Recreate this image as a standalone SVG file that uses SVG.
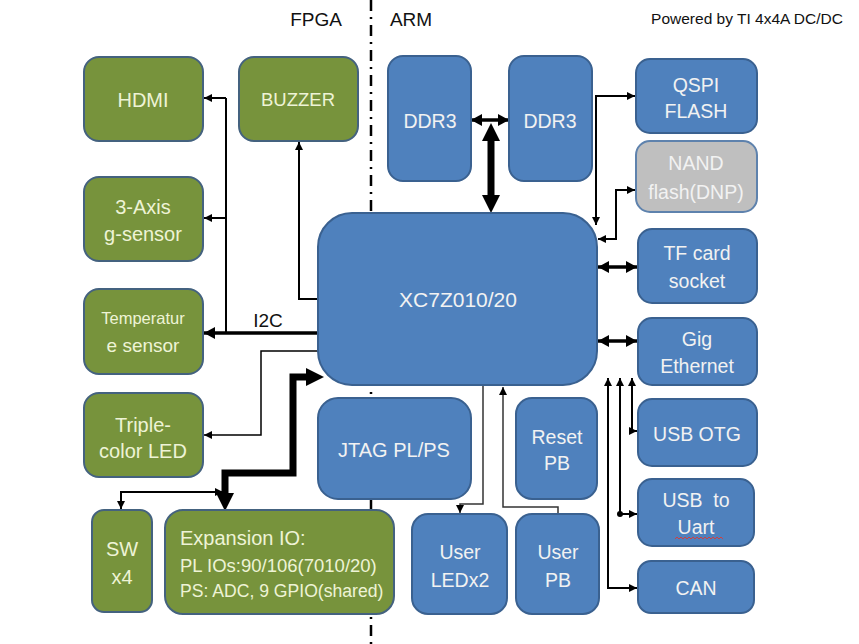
<svg xmlns="http://www.w3.org/2000/svg" width="859" height="644" viewBox="0 0 859 644">
<style>
text{font-family:"Liberation Sans",Arial,sans-serif;text-anchor:middle}
.g{fill:#77933C;stroke:#44627F;stroke-width:2}
.b{fill:#4F81BD;stroke:#3A6190;stroke-width:2}
.n{fill:#BFBFBF;stroke:#5E82AD;stroke-width:2}
.tg{fill:#EEF3D6;font-size:20px}
.tb{fill:#F2F2F2;font-size:19.5px}
.hd{fill:#111;font-size:19px}
.c{fill:none;stroke:#000;stroke-width:2}
.c3{fill:none;stroke:#000;stroke-width:3.5}
.ck{fill:none;stroke:#000;stroke-width:7;stroke-linejoin:miter}
.cf{fill:none;stroke:#333;stroke-width:1.5}
</style>
<defs>
<marker id="a" markerUnits="userSpaceOnUse" markerWidth="9" markerHeight="9" refX="8" refY="4" orient="auto-start-reverse"><path d="M0,0 L8,4 L0,8 z" fill="#000"/></marker>
<marker id="m" markerUnits="userSpaceOnUse" markerWidth="13" markerHeight="13" refX="11" refY="6" orient="auto-start-reverse"><path d="M0,0 L11,6 L0,12 z" fill="#000"/></marker>
<marker id="k" markerUnits="userSpaceOnUse" markerWidth="20" markerHeight="20" refX="0" refY="9" orient="auto-start-reverse"><path d="M0,0 L18,9 L0,18 z" fill="#000"/></marker>
</defs>
<rect width="859" height="644" fill="#fff"/>

<line x1="371" y1="0" x2="371" y2="644" stroke="#000" stroke-width="2.5" stroke-dasharray="11 6 2 6"/>
<text class="hd" x="316" y="26">FPGA</text>
<text class="hd" x="411" y="26">ARM</text>
<text x="747" y="24" style="font-size:15.5px;fill:#111">Powered by TI 4x4A DC/DC</text>

<g id="connectors">
<path class="c" d="M226,98 V333"/>
<path class="c" d="M226,98 H204" marker-end="url(#a)"/>
<path class="c" d="M226,218 H204" marker-end="url(#a)"/>
<path class="c3" d="M318,333 H204" marker-end="url(#m)"/>
<text class="hd" x="268" y="327">I2C</text>
<path class="c" d="M318,299 H299 V142" marker-end="url(#a)"/>
<path class="cf" style="stroke:#000" d="M318,351 H261 V435 H204" marker-end="url(#a)"/>
<path class="c" d="M223,492 H121 V509" marker-start="url(#a)" marker-end="url(#a)"/>
<path class="ck" d="M225,493 V473 H293 V377 H306" marker-start="url(#k)" marker-end="url(#k)"/>
<path class="c3" d="M471,120 H509" marker-start="url(#m)" marker-end="url(#m)"/>
<path class="ck" d="M491,141 V195" marker-start="url(#k)" marker-end="url(#k)"/>
<path class="c" d="M596,225 V96 H635" marker-start="url(#a)" marker-end="url(#a)"/>
<path class="c" d="M598,239 H616 V190 H635" marker-start="url(#a)" marker-end="url(#a)"/>
<path class="c3" d="M598,267 H637" marker-start="url(#m)" marker-end="url(#m)"/>
<path class="c3" d="M598,341 H637" marker-start="url(#m)" marker-end="url(#m)"/>
<path class="c" d="M637,431 H632 V378" marker-start="url(#a)" marker-end="url(#a)"/>
<path class="c" d="M620,378 V514 H637" marker-start="url(#a)" marker-end="url(#a)"/>
<circle cx="620" cy="514" r="3"/>
<path class="c" d="M608,378 V588 H637" marker-start="url(#a)" marker-end="url(#a)"/>
<path class="cf" d="M483,385 V504 H460 V513" marker-end="url(#a)"/>
<path class="cf" d="M558,514 V507 H503 V387" marker-end="url(#a)"/>
</g>

<g id="hdmi"><rect class="g" x="84" y="57" width="119" height="84" rx="15"/><text class="tg" x="143" y="107">HDMI</text></g>
<g id="buzzer"><rect class="g" x="239" y="57" width="119" height="84" rx="15"/><text class="tg" x="298" y="106" style="font-size:18.5px">BUZZER</text></g>
<g id="gsensor"><rect class="g" x="84" y="177" width="119" height="84" rx="15"/><text class="tg" x="143" y="214">3-Axis</text><text class="tg" x="143" y="241">g-sensor</text></g>
<g id="tempsensor"><rect class="g" x="84" y="289" width="119" height="85" rx="15"/><text class="tg" x="143" y="324" style="font-size:16.5px">Temperatur</text><text class="tg" x="143" y="352" style="font-size:19px">e sensor</text></g>
<g id="led"><rect class="g" x="84" y="393" width="119" height="84" rx="15"/><text class="tg" x="143" y="432">Triple-</text><text class="tg" x="143" y="458">color LED</text></g>
<g id="sw"><rect class="g" x="92" y="510" width="60" height="102" rx="12"/><text class="tg" x="122" y="556">SW</text><text class="tg" x="122" y="584">x4</text></g>
<g id="expansion"><rect class="g" x="165" y="510" width="229" height="104" rx="18"/>
<text class="tg" x="180" y="545" style="text-anchor:start">Expansion IO:</text>
<text class="tg" x="180" y="572" style="text-anchor:start;font-size:18.5px">PL IOs:90/106(7010/20)</text>
<text class="tg" x="180" y="597" style="text-anchor:start;font-size:17.6px">PS: ADC, 9 GPIO(shared)</text></g>

<g id="ddr3a"><rect class="b" x="388" y="56" width="83" height="125" rx="15"/><text class="tb" x="430" y="128">DDR3</text></g>
<g id="ddr3b"><rect class="b" x="509" y="56" width="83" height="125" rx="15"/><text class="tb" x="550" y="128">DDR3</text></g>
<g id="qspi"><rect class="b" x="636" y="59" width="121" height="74" rx="14"/><text class="tb" x="696" y="92">QSPI</text><text class="tb" x="696" y="118">FLASH</text></g>
<g id="nand"><rect class="n" x="636" y="141" width="121" height="71" rx="14"/><text class="tb" x="696" y="170">NAND</text><text class="tb" x="696" y="199">flash(DNP)</text></g>
<g id="soc"><rect class="b" x="318" y="213" width="279" height="172" rx="34"/><text class="tb" x="458" y="307" style="font-size:21px">XC7Z010/20</text></g>
<g id="tfcard"><rect class="b" x="638" y="229" width="119" height="74" rx="14"/><text class="tb" x="697" y="260">TF card</text><text class="tb" x="697" y="288">socket</text></g>
<g id="ethernet"><rect class="b" x="638" y="318" width="119" height="67" rx="14"/><text class="tb" x="697" y="346">Gig</text><text class="tb" x="697" y="373">Ethernet</text></g>
<g id="usbotg"><rect class="b" x="638" y="399" width="119" height="67" rx="14"/><text class="tb" x="697" y="441">USB OTG</text></g>
<g id="usbuart"><rect class="b" x="638" y="479" width="116" height="67" rx="14"/><text class="tb" x="696" y="507" xml:space="preserve">USB  to</text><text class="tb" x="696" y="534">Uart</text>
<path d="M675,539 l2,-2 l2,2 l2,-2 l2,2 l2,-2 l2,2 l2,-2 l2,2 l2,-2 l2,2 l2,-2 l2,2 l2,-2 l2,2 l2,-2 l2,2 l2,-2 l2,2 l2,-2 l2,2 l2,-2 l2,2 l2,-2 l2,2" fill="none" stroke="#D04040" stroke-width="1"/></g>
<g id="can"><rect class="b" x="638" y="561" width="116" height="52" rx="13"/><text class="tb" x="696" y="595">CAN</text></g>
<g id="jtag"><rect class="b" x="318" y="398" width="153" height="101" rx="20"/><text class="tb" x="394" y="457" style="font-size:20px">JTAG PL/PS</text></g>
<g id="reset"><rect class="b" x="516" y="398" width="81" height="101" rx="16"/><text class="tb" x="557" y="444">Reset</text><text class="tb" x="557" y="470">PB</text></g>
<g id="userled"><rect class="b" x="412" y="514" width="95" height="100" rx="16"/><text class="tb" x="460" y="559">User</text><text class="tb" x="460" y="587">LEDx2</text></g>
<g id="userpb"><rect class="b" x="516" y="514" width="83" height="100" rx="16"/><text class="tb" x="558" y="559">User</text><text class="tb" x="558" y="587">PB</text></g>
</svg>
